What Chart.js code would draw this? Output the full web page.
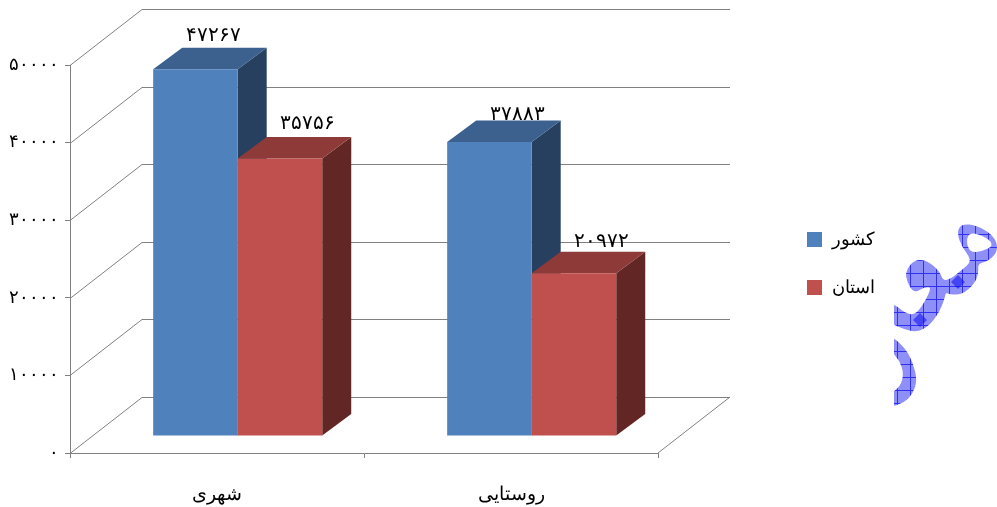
<!DOCTYPE html>
<html><head><meta charset="utf-8">
<style>html,body{margin:0;padding:0;background:#fff}canvas{display:block}</style>
<script src="https://cdn.jsdelivr.net/npm/chart.js@4"></script>
</head><body>
<div style="width:997px;height:507px;position:relative"><canvas id="c"></canvas></div>
<script>
const categories = ['شهری', 'روستایی'];
const seriesNames = ['کشور', 'استان'];
const nationValues = [47267, 37883];
const provinceValues = [35756, 20972];
const yTicks = [0, 10000, 20000, 30000, 40000, 50000];

const FONT = '"Liberation Serif", serif';
const GRID = '#808080';
const toFa = v => String(v).replace(/\d/g, d => '۰۱۲۳۴۵۶۷۸۹'[d]);
const wall = {dx: 72, dy: -56};
const bar = {shiftX: 20.7, shiftY: -17, dx: 29, dy: -21.5};
const faces = [
  {front: '#4F81BD', top: '#3C618F', side: '#274060'},
  {front: '#C0504D', top: '#8E3A38', side: '#622725'}
];
const labelOffset = [[[18, -33], [28, -27]], [[28, -35], [28, -32]]];

function poly(ctx, pts, fill) {
  ctx.beginPath();
  pts.forEach((p, i) => i ? ctx.lineTo(p[0], p[1]) : ctx.moveTo(p[0], p[1]));
  ctx.closePath();
  ctx.fillStyle = fill;
  ctx.fill();
}

const threeD = {
  id: 'threeD',
  beforeDatasetsDraw(chart) {
    const {ctx, scales: {x, y}, data} = chart;
    ctx.save();
    ctx.strokeStyle = GRID;
    ctx.lineWidth = 1;
    yTicks.forEach(v => {
      const py = Math.round(y.getPixelForValue(v)) + 0.5;
      ctx.beginPath();
      ctx.moveTo(x.left, py);
      ctx.lineTo(x.left + wall.dx, py + wall.dy);
      ctx.lineTo(x.right + wall.dx, py + wall.dy);
      ctx.stroke();
    });
    const by = y.getPixelForValue(0);
    ctx.beginPath();
    ctx.moveTo(x.right, by);
    ctx.lineTo(x.right + wall.dx, by + wall.dy);
    ctx.stroke();
    ctx.restore();

    data.datasets.forEach((ds, i) => {
      const meta = chart.getDatasetMeta(i);
      meta.data.forEach((el, j) => {
        const l = el.x - el.width / 2, r = el.x + el.width / 2, t = el.y, b = el.base;
        ctx.save();
        ctx.translate(bar.shiftX, bar.shiftY);
        poly(ctx, [[r, t], [r + bar.dx, t + bar.dy], [r + bar.dx, b + bar.dy], [r, b]], faces[i].side);
        poly(ctx, [[l, t], [l + bar.dx, t + bar.dy], [r + bar.dx, t + bar.dy], [r, t]], faces[i].top);
        el.draw(ctx);
        ctx.restore();
      });
    });

    data.datasets.forEach((ds, i) => {
      chart.getDatasetMeta(i).data.forEach((el, j) => {
        const n = labelOffset[i][j];
        ctx.save();
        ctx.font = '20px ' + FONT;
        ctx.fillStyle = '#000';
        ctx.textAlign = 'center';
        ctx.textBaseline = 'middle';
        ctx.fillText(toFa(ds.data[j]), el.x + bar.shiftX + n[0], el.y + bar.shiftY + n[1]);
        ctx.restore();
      });
    });
    return false;
  },
  afterDraw(chart) {
    const {ctx} = chart;
    ctx.save();
    ctx.font = '18px ' + FONT;
    ctx.textBaseline = 'middle';
    ctx.textAlign = 'left';
    chart.data.datasets.forEach((ds, i) => {
      const cy = 239.5 + i * 48;
      ctx.fillStyle = faces[i].front;
      ctx.fillRect(807, cy - 7.5, 15, 15);
      ctx.fillStyle = '#000';
      ctx.fillText(ds.label, 832, cy + 1);
    });
    ctx.restore();
    drawWatermark(ctx);
  }
};

function smoothPath(ctx, pts) {
  const n = pts.length;
  const mid = (a, b) => [(a[0] + b[0]) / 2, (a[1] + b[1]) / 2];
  const s = mid(pts[n - 1], pts[0]);
  ctx.moveTo(s[0], s[1]);
  pts.forEach((p, i) => {
    const m = mid(p, pts[(i + 1) % n]);
    ctx.quadraticCurveTo(p[0], p[1], m[0], m[1]);
  });
  ctx.closePath();
}

const stampOuter = [[890,302],[890,322],[905,328.3],[916.7,331],[928.3,325],[938.3,311.7],[943.3,298.3],[945,291],[950,293.3],[961.7,293.3],[973.3,283.3],[977.3,273.3],[976.7,262.3],[988.3,260],[997,250],[993.3,236.7],[976.7,226.7],[961.7,225],[958.3,233.3],[963.3,246.7],[970,255],[971.7,263.3],[961.7,271.7],[950,280.7],[942.3,281.7],[938.3,271.7],[926.7,261.7],[915,260.7],[906.7,271.7],[908.3,281.7],[914.3,291.7],[923.3,286],[932.7,286],[928.3,298.3],[916.7,316],[905,315]];
const stampHole = [[966,241],[970,232],[986,237],[994,245.5],[982,251.5],[970,252.5]];
const stampLower = [[890,336],[905,350],[911.7,363.3],[916,380],[911.7,393.3],[903.3,401.7],[890,406],[890,396],[901.7,386.7],[905,373.3],[900.7,360],[890,348]];

function drawWatermark(ctx) {
  const tile = document.createElement('canvas');
  tile.width = tile.height = 13;
  const t = tile.getContext('2d');
  t.fillStyle = '#8f8ff8';
  t.fillRect(0, 0, 13, 13);
  t.fillStyle = '#3030f0';
  t.fillRect(0, 0, 13, 1);
  t.fillRect(0, 0, 1, 13);
  const pat = ctx.createPattern(tile, 'repeat');
  ctx.save();
  ctx.beginPath();
  ctx.rect(894, 220, 103, 190);
  ctx.clip();
  ctx.fillStyle = pat;
  ctx.strokeStyle = pat;
  ctx.lineWidth = 2.5;
  ctx.lineJoin = 'round';
  ctx.beginPath();
  smoothPath(ctx, stampOuter);
  smoothPath(ctx, stampLower);
  ctx.fill();
  ctx.stroke();
  ctx.beginPath();
  smoothPath(ctx, stampHole);
  ctx.fillStyle = '#fff';
  ctx.fill();
  ctx.fillStyle = 'rgba(20,20,240,0.6)';
  [[958, 282], [920, 320]].forEach(c => {
    ctx.beginPath();
    ctx.moveTo(c[0] - 7, c[1]);
    ctx.lineTo(c[0], c[1] - 7);
    ctx.lineTo(c[0] + 7, c[1]);
    ctx.lineTo(c[0], c[1] + 7);
    ctx.closePath();
    ctx.fill();
  });
  ctx.restore();
}

new Chart(document.getElementById('c'), {
  type: 'bar',
  data: {
    labels: categories,
    datasets: [
      {label: seriesNames[0], data: nationValues, backgroundColor: faces[0].front, barPercentage: 1, categoryPercentage: 0.575},
      {label: seriesNames[1], data: provinceValues, backgroundColor: faces[1].front, barPercentage: 1, categoryPercentage: 0.575}
    ]
  },
  options: {
    responsive: true,
    maintainAspectRatio: false,
    animation: false,
    layout: {padding: {top: 65, right: 339, left: 0, bottom: 0}},
    plugins: {legend: {display: false}, tooltip: {enabled: false}},
    scales: {
      x: {
        afterFit(s) { s.height = 54; },
        grid: {drawOnChartArea: false, color: GRID, tickLength: 5, offset: true},
        border: {color: GRID},
        ticks: {color: '#000', font: {family: FONT, size: 18.5}, padding: 26, maxRotation: 0}
      },
      y: {
        min: 0, max: 50000,
        afterFit(s) { s.width = 70; },
        afterBuildTicks(s) { s.ticks = yTicks.map(v => ({value: v})); },
        grid: {drawOnChartArea: false, color: GRID, tickLength: 5},
        border: {color: GRID},
        ticks: {color: '#000', font: {family: FONT, size: 18}, padding: 6, callback: v => toFa(v)}
      }
    }
  },
  plugins: [threeD]
});
</script>
</body></html>
